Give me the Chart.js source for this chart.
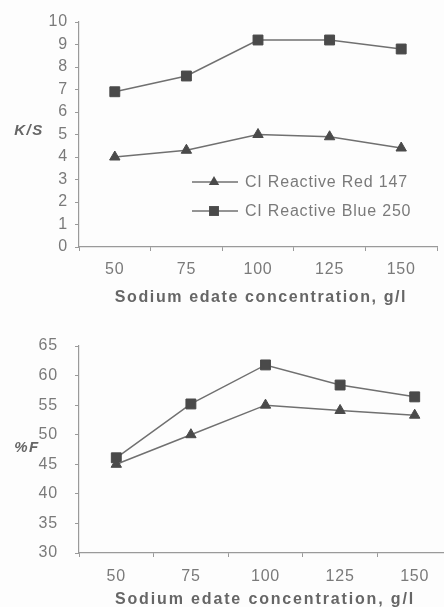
<!DOCTYPE html>
<html>
<head>
<meta charset="utf-8">
<script src="https://cdn.jsdelivr.net/npm/chart.js@4.4.1/dist/chart.umd.min.js"></script>
<style>
  html, body { margin: 0; padding: 0; background: #fdfdfd; overflow: hidden; width: 444px; height: 607px; }
  #c1wrap { position: absolute; left: 0; top: 0; }
  #c2wrap { position: absolute; left: 0; top: 305px; }
  canvas { display: block; }
</style>
</head>
<body>
<div id="c1wrap"><canvas id="c1" width="445" height="305"></canvas></div>
<div id="c2wrap"><canvas id="c2" width="460" height="302"></canvas></div>
<script>
// ---- data ----
const categories = ['50', '75', '100', '125', '150'];
const seriesNames = ['CI Reactive Red 147', 'CI Reactive Blue 250'];
const ksRed  = [4.0, 4.3, 5.0, 4.9, 4.4];
const ksBlue = [6.9, 7.6, 9.2, 9.2, 8.8];
const fRed   = [45.0, 50.0, 55.0, 54.1, 53.3];
const fBlue  = [46.1, 55.2, 61.8, 58.4, 56.4];
const ksTicks = [0, 1, 2, 3, 4, 5, 6, 7, 8, 9, 10];
const fTicks  = [30, 35, 40, 45, 50, 55, 60, 65];
const xTitle = 'Sodium edate concentration, g/l';
const ksTitle = 'K/S';
const fTitle = '%F';

const LINE = '#707070';
const MARK = '#4a4a4a';
const AXIS = '#9a9a9a';
const TICKTXT = '#7a7a7a';
const TITLETXT = '#666666';

function ds(label, data, style, radius) {
  return {
    label, data,
    borderColor: LINE, borderWidth: 1.5,
    pointStyle: style, pointRadius: radius, pointHoverRadius: radius,
    pointBackgroundColor: MARK, pointBorderColor: MARK, pointBorderWidth: 1,
    tension: 0, fill: false
  };
}

function drawMarker(ctx, style, x, y, r) {
  ctx.beginPath();
  if (style === 'rect') {
    const s = Math.SQRT1_2 * r;
    ctx.rect(x - s, y - s, 2 * s, 2 * s);
  } else {
    const w = r * Math.sqrt(3) / 2;
    ctx.moveTo(x, y - r);
    ctx.lineTo(x + w, y + r / 2);
    ctx.lineTo(x - w, y + r / 2);
    ctx.closePath();
  }
  ctx.fillStyle = MARK; ctx.fill();
}

function makeChart(id, cfg) {
  const textPlugin = {
    id: 'txt' + id,
    beforeDraw(chart) { chart.ctx.letterSpacing = '0.8px'; },
    afterDraw(chart) {
      const ctx = chart.ctx;
      ctx.save();
      // y title (horizontal)
      ctx.letterSpacing = '1.5px';
      ctx.font = 'italic bold 15px "Liberation Sans", Arial, sans-serif';
      ctx.fillStyle = TITLETXT;
      ctx.textAlign = 'center'; ctx.textBaseline = 'middle';
      ctx.fillText(cfg.yTitle, cfg.yTitleX, cfg.yTitleY);
      // x title
      ctx.letterSpacing = cfg.xTitleSpacing;
      ctx.font = 'bold 16px "Liberation Sans", Arial, sans-serif';
      ctx.fillText(xTitle, cfg.xTitleX, cfg.xTitleY);
      // legend
      if (cfg.legend) {
        ctx.letterSpacing = '0.8px';
        ctx.font = '16px "Liberation Sans", Arial, sans-serif';
        ctx.textAlign = 'left';
        chart.data.datasets.forEach((d, i) => {
          const y = cfg.legendY[i];
          ctx.strokeStyle = LINE; ctx.lineWidth = 1.5;
          ctx.beginPath(); ctx.moveTo(192, y); ctx.lineTo(238, y); ctx.stroke();
          drawMarker(ctx, d.pointStyle, 214, y, d.pointRadius);
          ctx.fillStyle = TICKTXT;
          ctx.fillText(d.label, 245, y + 1);
        });
      }
      ctx.restore();
    }
  };
  return new Chart(document.getElementById(id), {
    type: 'line',
    data: {
      labels: categories,
      datasets: [ds(seriesNames[0], cfg.red, 'triangle', 6), ds(seriesNames[1], cfg.blue, 'rect', 7)]
    },
    options: {
      responsive: false,
      animation: false,
      events: [],
      layout: { padding: { left: 0, top: cfg.top, right: cfg.right, bottom: 0 } },
      plugins: { legend: { display: false }, tooltip: { enabled: false } },
      scales: {
        x: {
          type: 'category',
          offset: true,
          grid: { offset: true, drawOnChartArea: false, tickLength: 4, color: AXIS },
          border: { color: AXIS, width: 1.2 },
          ticks: { color: TICKTXT, font: { size: 16, family: '"Liberation Sans", Arial, sans-serif' }, padding: cfg.xPad, maxRotation: 0 },
          afterFit(s) { s.height = cfg.xHeight; }
        },
        y: {
          min: cfg.ticks[0], max: cfg.ticks[cfg.ticks.length - 1],
          afterBuildTicks(s) { s.ticks = cfg.ticks.map(v => ({ value: v })); },
          grid: { drawOnChartArea: false, tickLength: 4, color: AXIS },
          border: { color: AXIS, width: 1.2 },
          ticks: { color: TICKTXT, font: { size: 16, family: '"Liberation Sans", Arial, sans-serif' }, padding: cfg.yPad },
          afterFit(s) { s.width = 79; }
        }
      }
    },
    plugins: [textPlugin]
  });
}

makeChart('c1', {
  red: ksRed, blue: ksBlue, ticks: ksTicks,
  top: 22, right: 1, xHeight: 58, yPad: 7, xPad: 9,
  yTitle: ksTitle, yTitleX: 29, yTitleY: 131,
  xTitleX: 261, xTitleY: 298, xTitleSpacing: '1.6px',
  legend: true, legendY: [182, 211]
});
makeChart('c2', {
  red: fRed, blue: fBlue, ticks: fTicks,
  top: 41, right: 1, xHeight: 54, yPad: 17, xPad: 10,
  yTitle: fTitle, yTitleX: 27, yTitleY: 143,
  xTitleX: 265, xTitleY: 295, xTitleSpacing: '1.85px',
  legend: false
});
</script>
</body>
</html>
